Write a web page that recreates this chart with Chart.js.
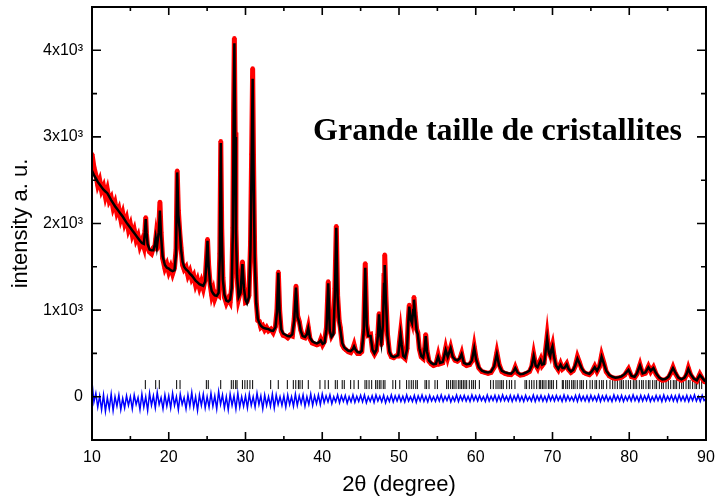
<!DOCTYPE html>
<html>
<head>
<meta charset="utf-8">
<title>Grande taille de cristallites</title>
<script src="https://cdn.jsdelivr.net/npm/chart.js"></script>
<style>
  html, body { margin: 0; padding: 0; background: #fff; }
  #wrap { width: 717px; height: 500px; }
</style>
</head>
<body>
<div id="wrap"><canvas id="chart" width="717" height="500"></canvas></div>
<script>
// 2theta positions of the observed / calculated profile
const twoTheta = [
  10.0, 10.25, 10.5, 10.75, 11.0, 11.25, 11.5, 11.75, 12.0, 12.25, 12.5, 12.75, 13.0, 13.25, 13.5, 13.75,
  14.0, 14.25, 14.5, 14.75, 15.0, 15.25, 15.5, 15.75, 16.0, 16.25, 16.5, 16.75, 16.9, 17.0, 17.1, 17.25,
  17.5, 17.75, 18.0, 18.2, 18.3, 18.45, 18.7, 18.85, 19.0, 19.2, 19.5, 19.75, 20.0, 20.25, 20.5, 20.75,
  20.95, 21.1, 21.25, 21.45, 21.6, 21.8, 22.0, 22.25, 22.5, 22.75, 23.0, 23.25, 23.5, 23.75, 24.0, 24.25,
  24.5, 24.75, 24.9, 25.05, 25.2, 25.4, 25.6, 25.8, 26.0, 26.25, 26.5, 26.65, 26.78, 26.9, 27.05, 27.25,
  27.5, 27.75, 28.0, 28.2, 28.35, 28.45, 28.55, 28.65, 28.75, 28.9, 29.1, 29.35, 29.6, 29.8, 30.0, 30.2,
  30.45, 30.65, 30.8, 30.93, 31.05, 31.2, 31.4, 31.6, 31.8, 32.0, 32.25, 32.5, 32.75, 33.0, 33.3, 33.6,
  33.9, 34.1, 34.28, 34.45, 34.65, 34.9, 35.2, 35.5, 35.8, 36.1, 36.35, 36.58, 36.78, 37.0, 37.2, 37.45,
  37.75, 38.0, 38.18, 38.4, 38.7, 39.0, 39.3, 39.6, 39.8, 40.05, 40.3, 40.55, 40.78, 40.98, 41.2, 41.45,
  41.65, 41.83, 42.0, 42.2, 42.35, 42.6, 42.85, 43.1, 43.4, 43.7, 44.0, 44.15, 44.35, 44.6, 44.9, 45.15,
  45.4, 45.6, 45.8, 46.0, 46.3, 46.55, 46.8, 47.05, 47.25, 47.4, 47.55, 47.7, 47.9, 48.05, 48.14, 48.3,
  48.5, 48.75, 49.0, 49.3, 49.6, 49.9, 50.05, 50.2, 50.35, 50.55, 50.8, 51.05, 51.2, 51.34, 51.5, 51.7,
  51.85, 51.95, 52.1, 52.3, 52.45, 52.65, 52.9, 53.15, 53.35, 53.48, 53.65, 53.9, 54.2, 54.5, 54.8, 55.1,
  55.35, 55.7, 56.08, 56.35, 56.73, 57.0, 57.3, 57.6, 57.9, 58.16, 58.45, 58.8, 59.2, 59.5, 59.8, 60.05,
  60.4, 60.8, 61.2, 61.6, 62.0, 62.4, 62.75, 63.05, 63.4, 63.8, 64.2, 64.6, 64.9, 65.15, 65.45, 65.8,
  66.2, 66.6, 67.0, 67.3, 67.55, 67.8, 68.05, 68.3, 68.45, 68.65, 68.9, 69.1, 69.3, 69.5, 69.7, 69.85,
  70.0, 70.2, 70.45, 70.75, 71.05, 71.3, 71.55, 71.85, 72.1, 72.4, 72.7, 72.95, 73.25, 73.5, 73.8, 74.1,
  74.4, 74.8, 75.1, 75.5, 75.8, 76.1, 76.4, 76.7, 77.0, 77.4, 77.8, 78.2, 78.6, 79.0, 79.4, 79.9,
  80.3, 80.7, 81.0, 81.4, 81.75, 82.1, 82.5, 82.8, 83.15, 83.5, 83.9, 84.3, 84.7, 85.1, 85.4, 85.7,
  86.0, 86.4, 86.8, 87.2, 87.45, 87.7, 88.0, 88.4, 88.8, 89.2, 89.5, 89.8, 90.0
];

// calculated profile (black line)
const calcI = [
  2610, 2560, 2520, 2480, 2450, 2420, 2390, 2370, 2350, 2310, 2270, 2235, 2200, 2170, 2140, 2110,
  2080, 2045, 2010, 1980, 1950, 1920, 1890, 1860, 1830, 1800, 1775, 1765, 1900, 2050, 1900, 1760,
  1700, 1690, 1690, 1760, 1830, 1730, 1900, 2150, 1850, 1620, 1520, 1490, 1480, 1460, 1450, 1460,
  1650, 2590, 2100, 1900, 1700, 1560, 1500, 1470, 1450, 1420, 1400, 1370, 1340, 1320, 1300, 1290,
  1280, 1330, 1550, 1800, 1500, 1300, 1220, 1190, 1170, 1165, 1200, 1600, 2930, 1900, 1350, 1180,
  1110, 1100, 1120, 1250, 1900, 3200, 4080, 3000, 1900, 1400, 1150, 1200, 1530, 1250, 1120, 1080,
  1150, 1700, 2700, 3670, 2600, 1600, 1080, 900, 850, 820, 800, 790, 785, 780, 765, 760,
  800, 980, 1430, 980, 780, 730, 715, 700, 695, 720, 880, 1260, 920, 860, 760, 700,
  690, 720, 790, 680, 640, 625, 615, 630, 650, 610, 620, 780, 1310, 760, 690, 720,
  1200, 1950, 1150, 860, 780, 620, 570, 550, 530, 525, 550, 580, 540, 515, 510, 530,
  750, 1490, 820, 700, 700, 540, 500, 540, 700, 950, 720, 620, 820, 1300, 1520, 1100,
  700, 520, 470, 460, 465, 480, 600, 720, 600, 470, 450, 550, 850, 1040, 900, 850,
  1000, 1120, 950, 760, 720, 560, 470, 450, 550, 700, 520, 420, 390, 375, 380, 460,
  390, 400, 540, 460, 560, 460, 430, 420, 440, 490, 390, 375, 380, 420, 560, 430,
  340, 300, 285, 280, 290, 350, 490, 360, 300, 280, 270, 265, 290, 330, 280, 260,
  265, 280, 300, 360, 470, 360, 340, 390, 420, 370, 380, 520, 670, 520, 470, 540,
  580, 460, 360, 320, 370, 330, 330, 370, 320, 290, 310, 360, 440, 390, 330, 290,
  275, 265, 290, 340, 300, 350, 460, 380, 300, 250, 230, 220, 225, 235, 260, 310,
  240, 230, 270, 360, 270, 280, 340, 300, 330, 270, 220, 200, 205, 230, 280, 330,
  280, 220, 200, 220, 260, 320, 260, 210, 190, 250, 220, 185, 180
];

// observed intensities (red dots)
const obsI = [
  2800, 2650, 2560, 2440, 2500, 2380, 2430, 2310, 2390, 2260, 2300, 2180, 2240, 2120, 2170, 2050,
  2120, 2000, 2060, 1930, 1990, 1870, 1930, 1810, 1860, 1740, 1800, 1730, 1920, 2070, 1880, 1720,
  1670, 1650, 1720, 1740, 1820, 1700, 1950, 2250, 1900, 1600, 1480, 1530, 1440, 1500, 1420, 1490,
  1700, 2610, 2150, 1880, 1720, 1520, 1470, 1500, 1400, 1450, 1360, 1400, 1290, 1350, 1260, 1330,
  1250, 1360, 1580, 1820, 1520, 1290, 1170, 1230, 1130, 1190, 1170, 1650, 2950, 1950, 1380, 1150,
  1080, 1130, 1090, 1270, 1950, 3300, 4140, 3050, 1950, 1380, 1130, 1220, 1560, 1270, 1090, 1100,
  1170, 1750, 2800, 3790, 2700, 1650, 1100, 880, 870, 800, 820, 770, 800, 760, 780, 740,
  810, 1000, 1440, 1000, 760, 710, 700, 680, 710, 700, 900, 1280, 940, 870, 770, 690,
  680, 730, 800, 670, 620, 610, 600, 610, 660, 600, 640, 800, 1330, 780, 700, 740,
  1250, 1970, 1170, 880, 800, 600, 560, 540, 520, 510, 560, 600, 530, 500, 500, 520,
  770, 1540, 840, 710, 720, 530, 490, 530, 720, 960, 730, 600, 850, 1400, 1640, 1150,
  720, 510, 460, 450, 470, 470, 620, 740, 610, 460, 440, 560, 880, 1060, 920, 860,
  1020, 1150, 970, 780, 740, 550, 460, 440, 560, 720, 530, 410, 380, 360, 370, 480,
  380, 390, 560, 450, 570, 470, 420, 410, 430, 500, 380, 360, 370, 410, 580, 440,
  330, 290, 280, 270, 280, 340, 510, 370, 290, 270, 260, 255, 280, 340, 270, 250,
  255, 270, 290, 350, 490, 370, 330, 400, 430, 360, 390, 540, 700, 530, 480, 550,
  600, 470, 350, 310, 380, 320, 340, 380, 310, 280, 300, 350, 460, 400, 320, 280,
  265, 255, 280, 350, 290, 340, 480, 390, 290, 240, 220, 210, 215, 225, 250, 320,
  230, 220, 260, 370, 260, 270, 350, 290, 340, 260, 210, 190, 195, 220, 270, 340,
  270, 210, 190, 210, 250, 330, 250, 200, 180, 260, 210, 175, 170
];

// difference curve (blue)
const diffX = [
  10.0, 10.25, 10.5, 10.75, 11.0, 11.25, 11.5, 11.75, 12.0, 12.25, 12.5, 12.75, 13.0, 13.25, 13.5, 13.75, 14.0, 14.25, 14.5, 14.75,
  15.0, 15.25, 15.5, 15.75, 16.0, 16.25, 16.5, 16.75, 17.0, 17.25, 17.5, 17.75, 18.0, 18.25, 18.5, 18.75, 19.0, 19.25, 19.5, 19.75,
  20.0, 20.25, 20.5, 20.75, 21.0, 21.25, 21.5, 21.75, 22.0, 22.25, 22.5, 22.75, 23.0, 23.25, 23.5, 23.75, 24.0, 24.25, 24.5, 24.75,
  25.0, 25.25, 25.5, 25.75, 26.0, 26.25, 26.5, 26.75, 27.0, 27.25, 27.5, 27.75, 28.0, 28.25, 28.5, 28.75, 29.0, 29.25, 29.5, 29.75,
  30.0, 30.25, 30.5, 30.75, 31.0, 31.25, 31.5, 31.75, 32.0, 32.25, 32.5, 32.75, 33.0, 33.25, 33.5, 33.75, 34.0, 34.25, 34.5, 34.75,
  35.0, 35.25, 35.5, 35.75, 36.0, 36.25, 36.5, 36.75, 37.0, 37.25, 37.5, 37.75, 38.0, 38.25, 38.5, 38.75, 39.0, 39.25, 39.5, 39.75,
  40.0, 40.25, 40.5, 40.75, 41.0, 41.25, 41.5, 41.75, 42.0, 42.25, 42.5, 42.75, 43.0, 43.25, 43.5, 43.75, 44.0, 44.25, 44.5, 44.75,
  45.0, 45.25, 45.5, 45.75, 46.0, 46.25, 46.5, 46.75, 47.0, 47.25, 47.5, 47.75, 48.0, 48.25, 48.5, 48.75, 49.0, 49.25, 49.5, 49.75,
  50.0, 50.25, 50.5, 50.75, 51.0, 51.25, 51.5, 51.75, 52.0, 52.25, 52.5, 52.75, 53.0, 53.25, 53.5, 53.75, 54.0, 54.25, 54.5, 54.75,
  55.0, 55.25, 55.5, 55.75, 56.0, 56.25, 56.5, 56.75, 57.0, 57.25, 57.5, 57.75, 58.0, 58.25, 58.5, 58.75, 59.0, 59.25, 59.5, 59.75,
  60.0, 60.25, 60.5, 60.75, 61.0, 61.25, 61.5, 61.75, 62.0, 62.25, 62.5, 62.75, 63.0, 63.25, 63.5, 63.75, 64.0, 64.25, 64.5, 64.75,
  65.0, 65.25, 65.5, 65.75, 66.0, 66.25, 66.5, 66.75, 67.0, 67.25, 67.5, 67.75, 68.0, 68.25, 68.5, 68.75, 69.0, 69.25, 69.5, 69.75,
  70.0, 70.25, 70.5, 70.75, 71.0, 71.25, 71.5, 71.75, 72.0, 72.25, 72.5, 72.75, 73.0, 73.25, 73.5, 73.75, 74.0, 74.25, 74.5, 74.75,
  75.0, 75.25, 75.5, 75.75, 76.0, 76.25, 76.5, 76.75, 77.0, 77.25, 77.5, 77.75, 78.0, 78.25, 78.5, 78.75, 79.0, 79.25, 79.5, 79.75,
  80.0, 80.25, 80.5, 80.75, 81.0, 81.25, 81.5, 81.75, 82.0, 82.25, 82.5, 82.75, 83.0, 83.25, 83.5, 83.75, 84.0, 84.25, 84.5, 84.75,
  85.0, 85.25, 85.5, 85.75, 86.0, 86.25, 86.5, 86.75, 87.0, 87.25, 87.5, 87.75, 88.0, 88.25, 88.5, 88.75, 89.0, 89.25, 89.5, 89.75,
  90.0
];
const diffI = [
  170, -60, 40, -120, 10, -150, 20, -170, -10, -140, 30, -160, 0, -110, 20, -150, -20, -130, 10, -100,
  0, -140, 20, -90, -10, -150, 30, -120, 0, -160, 40, -100, 10, -130, 50, -90, -10, -140, 20, -110,
  10, -130, 40, -100, 0, -150, 30, -90, -10, -140, 20, -110, 50, -120, 0, -160, 20, -100, 30, -130,
  0, -120, 40, -110, 10, -140, 60, -90, 20, -130, 0, -150, 30, -100, 10, -140, 40, -120, 0, -110,
  10, -130, 30, -100, 0, -120, 40, -90, 10, -140, 20, -100, 0, -110, 30, -130, 20, -90, 0, -100,
  10, -120, 20, -90, 0, -110, 30, -100, 10, -80, 20, -110, 0, -90, 30, -100, 10, -80, 20, -90,
  30, -70, 10, -60, 20, -80, 0, -60, 20, -70, 10, -55, 15, -75, 0, -60, 20, -65, 5, -55,
  15, -60, 20, -70, 0, -55, 10, -65, 20, -50, 5, -60, 15, -70, 0, -55, 20, -60, 10, -50,
  15, -55, 5, -60, 20, -50, 0, -55, 15, -65, 10, -50, 20, -55, 5, -60, 15, -50, 0, -55,
  10, -50, 20, -55, 5, -45, 15, -60, 0, -50, 20, -55, 10, -45, 15, -50, 5, -55, 20, -45,
  10, -50, 15, -45, 0, -55, 20, -50, 5, -45, 15, -55, 10, -50, 20, -45, 5, -50, 15, -55,
  10, -45, 20, -50, 5, -55, 15, -45, 0, -50, 20, -55, 10, -45, 15, -50, 5, -55, 20, -45,
  10, -50, 15, -45, 5, -55, 20, -50, 10, -45, 0, -50, 15, -55, 20, -45, 5, -50, 10, -55,
  15, -45, 5, -50, 20, -55, 10, -45, 15, -50, 0, -55, 20, -45, 10, -50, 15, -55, 5, -45,
  10, -50, 20, -45, 5, -55, 15, -50, 10, -45, 20, -55, 0, -50, 15, -45, 10, -55, 20, -50,
  5, -45, 15, -50, 10, -55, 20, -45, 5, -50, 15, -55, 10, -45, 20, -50, 5, -55, 15, -45,
  -20
];

// Bragg reflection positions (tick marks)
const braggPos = [
  16.95, 18.3, 18.77, 21.03, 21.47, 24.9, 25.15, 26.77, 28.15, 28.41, 28.72, 28.9, 29.6, 29.92, 30.23, 30.58,
  30.93, 33.28, 34.27, 35.45, 36.23, 36.55, 36.89, 37.1, 37.4, 38.18, 39.7, 40.36, 40.79, 41.7, 41.96, 42.6,
  42.87, 43.7, 44.14, 44.7, 45.57, 45.8, 46.1, 46.44, 46.96, 47.17, 47.43, 47.65, 47.95, 48.17, 49.2, 49.56,
  50.1, 50.99, 51.3, 51.6, 51.86, 52.18, 52.39, 53.39, 53.6, 53.91, 54.69, 55.0, 56.21, 56.43, 56.73, 56.99,
  57.17, 57.43, 57.73, 57.95, 58.16, 58.38, 58.6, 58.82, 59.16, 59.47, 59.69, 59.95, 60.47, 61.94, 62.29, 62.64,
  62.9, 63.16, 63.38, 63.59, 64.03, 64.38, 64.68, 65.11, 66.42, 66.63, 66.98, 67.29, 67.59, 67.94, 68.28, 68.46,
  68.68, 68.89, 69.15, 69.46, 69.67, 69.89, 70.11, 70.54, 71.28, 71.41, 71.72, 71.93, 72.19, 72.5, 72.71, 72.93,
  73.23, 73.58, 73.8, 74.02, 74.45, 74.89, 75.19, 75.54, 75.75, 76.1, 76.41, 76.62, 77.06, 77.49, 77.84, 78.14,
  78.45, 78.79, 79.01, 79.23, 79.58, 79.88, 80.18, 80.53, 80.75, 80.97, 81.31, 81.62, 81.83, 82.18, 82.49, 82.7,
  83.05, 83.35, 83.57, 83.92, 84.22, 84.44, 84.79, 85.09, 85.4, 85.74, 85.96, 86.18, 86.53, 86.83, 87.05, 87.4,
  87.7, 87.92, 88.26, 88.57, 88.78, 89.13, 89.44
];
const braggLevel = 140;

// axes
const xTickValues = [10, 20, 30, 40, 50, 60, 70, 80, 90];
const xMinorTicks = [15, 25, 35, 45, 55, 65, 75, 85];
const yTickValues = [0, 1000, 2000, 3000, 4000];
const yTickLabels = ['0', '1x10³', '2x10³', '3x10³', '4x10³'];
const yMinorTicks = [500, 1500, 2500, 3500];
const xTitle = '2θ (degree)';
const yTitle = 'intensity a. u.';
const noteText = 'Grande taille de cristallites';
const noteAt = [38.8, 2960];

const sansFont = '"Liberation Sans", Arial, sans-serif';

// frame with inward ticks on all four sides, plus the note
const framePlugin = {
  id: 'frame',
  afterDatasetsDraw(chart) {
    const { ctx, chartArea: a, scales: { x, y } } = chart;
    ctx.save();
    ctx.strokeStyle = '#000';
    ctx.lineWidth = 2;
    ctx.strokeRect(a.left, a.top, a.right - a.left, a.bottom - a.top);

    ctx.lineWidth = 1.6;
    ctx.beginPath();
    function xTick(v, len) {
      const px = x.getPixelForValue(v);
      ctx.moveTo(px, a.bottom); ctx.lineTo(px, a.bottom - len);
      ctx.moveTo(px, a.top); ctx.lineTo(px, a.top + len);
    }
    function yTick(v, len) {
      const py = y.getPixelForValue(v);
      ctx.moveTo(a.left, py); ctx.lineTo(a.left + len, py);
      ctx.moveTo(a.right, py); ctx.lineTo(a.right - len, py);
    }
    xTickValues.forEach(v => xTick(v, 8));
    xMinorTicks.forEach(v => xTick(v, 4));
    yTickValues.forEach(v => yTick(v, 9));
    yMinorTicks.forEach(v => yTick(v, 5));
    ctx.stroke();

    ctx.fillStyle = '#000';
    ctx.font = 'bold 32px "Liberation Serif", "Times New Roman", serif';
    ctx.textAlign = 'left';
    ctx.textBaseline = 'alphabetic';
    ctx.fillText(noteText, x.getPixelForValue(noteAt[0]), y.getPixelForValue(noteAt[1]));
    ctx.restore();
  }
};

const obsData = twoTheta.map((t, i) => ({ x: t, y: obsI[i] }));
const calcData = twoTheta.map((t, i) => ({ x: t, y: calcI[i] }));
const diffData = diffX.map((t, i) => ({ x: t, y: diffI[i] }));
const braggData = braggPos.map(t => ({ x: t, y: braggLevel }));

new Chart(document.getElementById('chart').getContext('2d'), {
  type: 'scatter',
  data: {
    datasets: [
      {
        label: 'calc',
        data: calcData,
        showLine: true,
        borderColor: '#000000',
        borderWidth: 2.5,
        pointRadius: 0,
        order: 0
      },
      {
        label: 'obs',
        data: obsData,
        showLine: true,
        borderColor: '#ff0000',
        borderWidth: 5,
        pointRadius: 2.2,
        pointBackgroundColor: '#ff0000',
        pointBorderWidth: 0,
        order: 1
      },
      {
        label: 'diff',
        data: diffData,
        showLine: true,
        borderColor: '#0000ff',
        borderWidth: 1.5,
        pointRadius: 0,
        order: 2
      },
      {
        label: 'bragg',
        data: braggData,
        pointStyle: 'line',
        rotation: 90,
        pointRadius: 4.5,
        borderColor: '#000000',
        borderWidth: 1,
        order: 3
      }
    ]
  },
  options: {
    responsive: false,
    animation: false,
    layout: { padding: { top: 7, right: 11, left: 0, bottom: 0 } },
    plugins: {
      legend: { display: false },
      tooltip: { enabled: false }
    },
    scales: {
      x: {
        type: 'linear',
        min: 10,
        max: 90,
        afterBuildTicks: scale => { scale.ticks = xTickValues.map(v => ({ value: v })); },
        afterFit: scale => {
          scale.height = 60;
          scale.paddingLeft = 0;
          scale.paddingRight = 0;
        },
        grid: { display: false, drawTicks: false },
        border: { display: false },
        ticks: {
          color: '#000',
          padding: 8,
          maxRotation: 0,
          font: { family: sansFont, size: 16 }
        },
        title: {
          display: true,
          text: xTitle,
          color: '#000',
          padding: { top: 0, bottom: 2 },
          font: { family: sansFont, size: 22 }
        }
      },
      y: {
        type: 'linear',
        min: -500,
        max: 4500,
        afterBuildTicks: scale => { scale.ticks = yTickValues.map(v => ({ value: v })); },
        afterFit: scale => {
          scale.width = 92;
          scale.paddingTop = 0;
          scale.paddingBottom = 0;
        },
        grid: { display: false, drawTicks: false },
        border: { display: false },
        ticks: {
          color: '#000',
          padding: 9,
          font: { family: sansFont, size: 16 },
          callback: value => yTickLabels[yTickValues.indexOf(value)]
        },
        title: {
          display: true,
          text: yTitle,
          color: '#000',
          padding: { top: 8, bottom: 0 },
          font: { family: sansFont, size: 22 }
        }
      }
    }
  },
  plugins: [framePlugin]
});
</script>
</body>
</html>
